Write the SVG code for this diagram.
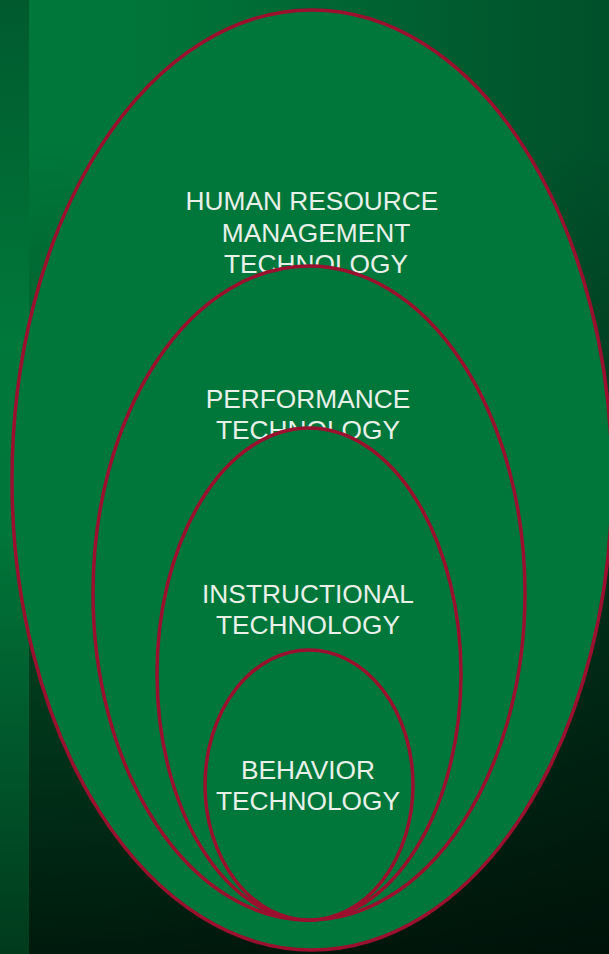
<svg xmlns="http://www.w3.org/2000/svg" width="609" height="954" viewBox="0 0 609 954">
  <defs>
    <linearGradient id="strip" x1="0" y1="0" x2="0" y2="1">
      <stop offset="0" stop-color="#005a2e"/>
      <stop offset="0.35" stop-color="#00783a"/>
      <stop offset="0.55" stop-color="#00763a"/>
      <stop offset="0.8" stop-color="#00552a"/>
      <stop offset="1" stop-color="#003a1c"/>
    </linearGradient>
    <linearGradient id="baseH" x1="0" y1="0" x2="1" y2="0">
      <stop offset="0" stop-color="#00783a"/>
      <stop offset="0.2" stop-color="#00763a"/>
      <stop offset="1" stop-color="#00502a"/>
    </linearGradient>
    <linearGradient id="shadeV" x1="0" y1="0" x2="0" y2="1">
      <stop offset="0" stop-color="#000" stop-opacity="0"/>
      <stop offset="0.15" stop-color="#000" stop-opacity="0"/>
      <stop offset="0.35" stop-color="#000" stop-opacity="0.17"/>
      <stop offset="0.7" stop-color="#000" stop-opacity="0.5"/>
      <stop offset="1" stop-color="#000" stop-opacity="0.78"/>
    </linearGradient>
  </defs>
  <style>
    .ring { fill: #00773a; stroke: #9b0f2f; stroke-width: 3.5; }
    .lbl { font-family: "Liberation Sans", Arial, sans-serif; font-size: 26.3px; fill: #e8f0ea; text-anchor: middle; }
  </style>
  <rect x="0" y="0" width="609" height="954" fill="url(#baseH)"/>
  <rect x="0" y="0" width="609" height="954" fill="url(#shadeV)"/>
  <rect x="0" y="0" width="29" height="954" fill="url(#strip)"/>

  <g id="hrm">
    <ellipse class="ring" cx="312" cy="480" rx="300" ry="470"/>
    <text class="lbl"><tspan x="312" y="210">HUMAN RESOURCE</tspan><tspan x="316" y="242">MANAGEMENT</tspan><tspan x="316" y="273">TECHNOLOGY</tspan></text>
  </g>
  <g id="performance">
    <ellipse class="ring" cx="309" cy="593" rx="216" ry="327"/>
    <text class="lbl"><tspan x="308" y="408">PERFORMANCE</tspan><tspan x="308" y="439">TECHNOLOGY</tspan></text>
  </g>
  <g id="instructional">
    <ellipse class="ring" cx="309" cy="674" rx="152" ry="246"/>
    <text class="lbl"><tspan x="308" y="603">INSTRUCTIONAL</tspan><tspan x="308" y="634">TECHNOLOGY</tspan></text>
  </g>
  <g id="behavior">
    <ellipse class="ring" cx="309" cy="785" rx="104" ry="135"/>
    <text class="lbl"><tspan x="308" y="779">BEHAVIOR</tspan><tspan x="308" y="810">TECHNOLOGY</tspan></text>
  </g>
  <g id="connectors"/>
</svg>
